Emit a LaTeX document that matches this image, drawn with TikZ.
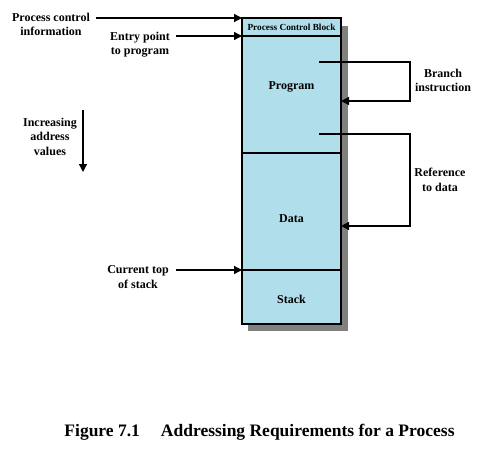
\documentclass[tikz,border=0pt]{standalone}
\usepackage{fontspec}
\setmainfont{Liberation Serif}
\usetikzlibrary{arrows.meta}
\definecolor{boxfill}{RGB}{176,222,234}
\definecolor{shadowgray}{RGB}{128,128,128}
\begin{document}
\begin{tikzpicture}[x=1pt,y=-1pt,
  lbl/.style={font=\fontsize{12}{14.5}\selectfont\bfseries, align=center, inner sep=0pt},
  arr/.style={line width=1.3pt, -{Triangle[length=8pt,width=8pt]}},
  seg/.style={line width=1.1pt}]
\useasboundingbox (0,0) rectangle (485,452);
% shadow
\fill[shadowgray] (248,26) rectangle (348,331);
% memory box
\filldraw[fill=boxfill, line width=1.3pt] (242,18) rectangle (341,324);
\draw[seg] (242,36) -- (341,36);
\draw[seg] (242,153) -- (341,153);
\draw[seg] (242,270) -- (341,270);
\coordinate (pcbL) at (242,18);
\coordinate (progL) at (242,36);
\coordinate (stackL) at (242,270);
\node[font=\fontsize{9.3}{11}\selectfont\bfseries, inner sep=0pt] (pcb) at (291.5,27.5) {Process Control Block};
\node[lbl] (prog) at (291.5,87) {Program};
\node[lbl] (data) at (291.5,219) {Data};
\node[lbl] (stack) at (291.5,299) {Stack};
% left labels
\node[lbl] (pci) at (51,24.5) {Process control\\information};
\node[lbl] (entry) at (140,44.5) {Entry point\\to program};
\node[lbl] (ctop) at (138,277) {Current top\\of stack};
\node[lbl] (inc) at (50,136.5) {Increasing\\address\\values};
\coordinate (pciS) at (96,18);
\coordinate (entryS) at (176,36);
\coordinate (ctopS) at (176,270);
\draw[arr] (pciS) -- (pcbL);
\draw[arr] (entryS) -- (progL);
\draw[arr] (ctopS) -- (stackL);
\coordinate (incT) at (83,110);
\coordinate (incB) at (83,172);
\draw[arr] (incT) -- (incB);
% branch
\coordinate (b1) at (319,62);
\coordinate (b2) at (410,62);
\coordinate (b3) at (410,101);
\coordinate (b4) at (341,101);
\draw[arr] (b1) -- (b2) -- (b3) -- (b4);
\node[lbl] (branch) at (443,80.5) {Branch\\instruction};
% reference
\coordinate (r1) at (319,134);
\coordinate (r2) at (410,134);
\coordinate (r3) at (410,226);
\coordinate (r4) at (341,226);
\draw[arr] (r1) -- (r2) -- (r3) -- (r4);
\node[lbl] (ref) at (440,180) {Reference\\to data};
% caption
\node[font=\fontsize{17.5}{20}\selectfont\bfseries, inner sep=0pt] (cap) at (259.5,432) {Figure 7.1\hspace{1.2em}Addressing Requirements for a Process};
\end{tikzpicture}
\end{document}
